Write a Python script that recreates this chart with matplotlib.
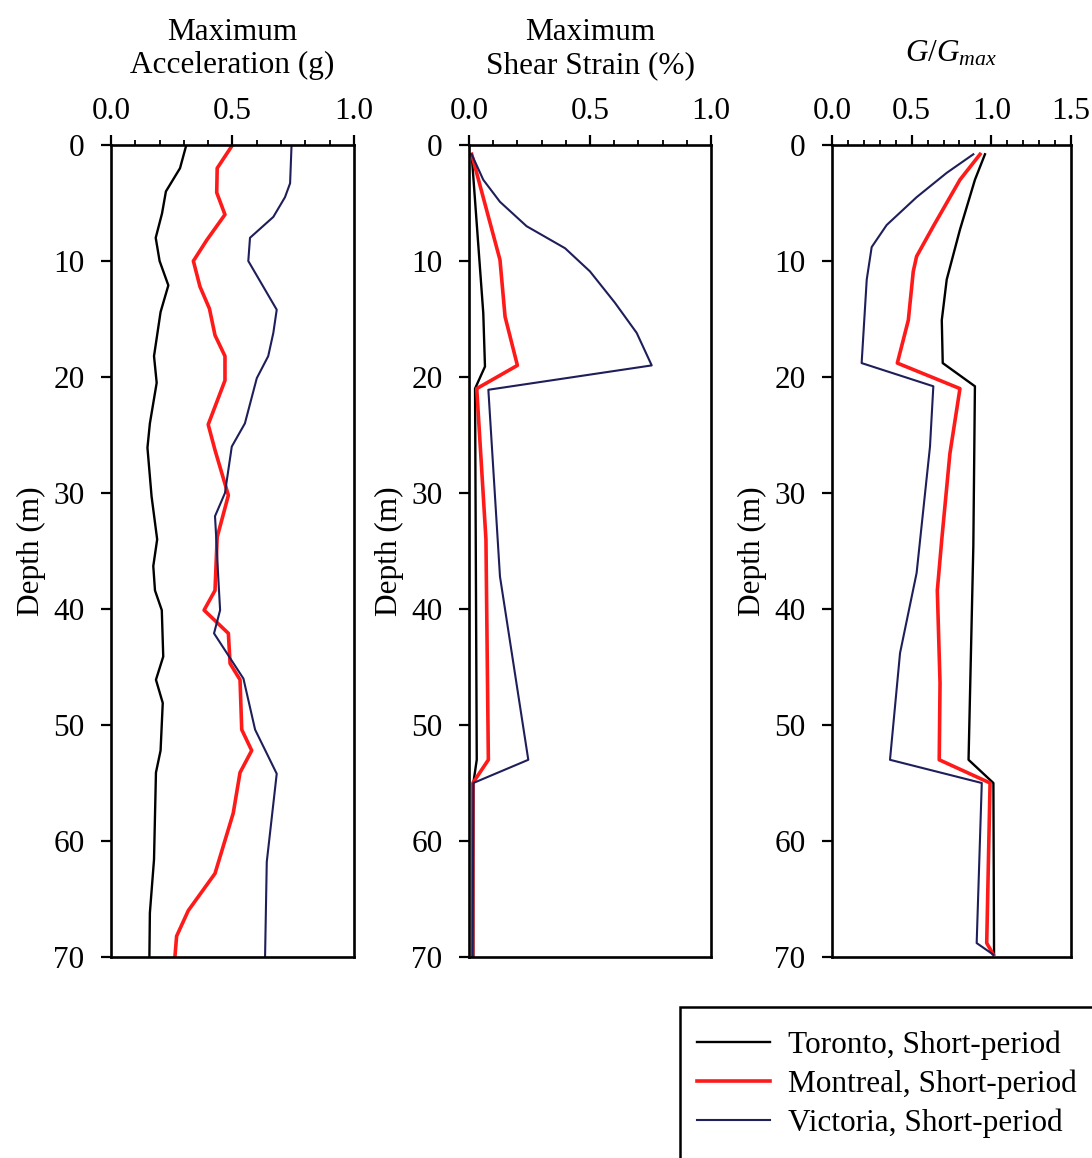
import numpy as np
from matplotlib import pyplot as plt
from matplotlib.patches import Rectangle

# --- valeurs ---
depth_ticks = [0, 10, 20, 30, 40, 50, 60, 70]

# Maximum acceleration (g)
acc_tor_d = [0, 2, 4, 5.9, 8, 10, 12.1, 14.4, 18.2, 20.5, 24, 26.1, 30.3, 34, 36.3, 38.4, 40.1,
             44.1, 46.1, 48.1, 52.2, 54.1, 61.6, 66.2, 70]
acc_tor = [0.31, 0.284, 0.226, 0.21, 0.184, 0.20, 0.236, 0.204, 0.177, 0.188, 0.16, 0.15, 0.167,
           0.19, 0.174, 0.181, 0.209, 0.215, 0.185, 0.213, 0.204, 0.185, 0.177, 0.16, 0.158]
acc_mtl_d = [0, 2, 4.1, 6, 8.2, 10, 12.2, 14.1, 16.4, 18.2, 20.3, 24.1, 26.3, 30.2, 33.8, 38.4,
             40.1, 42.1, 44.7, 46.1, 50.4, 52.2, 54.1, 57.6, 62.8, 66, 68.2, 70]
acc_mtl = [0.50, 0.437, 0.435, 0.469, 0.394, 0.339, 0.366, 0.405, 0.428, 0.469, 0.469, 0.40, 0.428,
           0.483, 0.437, 0.428, 0.383, 0.483, 0.49, 0.531, 0.538, 0.579, 0.531, 0.503, 0.428,
           0.318, 0.27, 0.263]
acc_vic_d = [0, 3.3, 4.5, 6.2, 8, 10, 14.2, 16.2, 18.2, 20.1, 24, 26, 30, 32, 34.6, 37.5, 40.1,
             42.1, 46, 50.4, 54.2, 61.8, 70]
acc_vic = [0.743, 0.737, 0.716, 0.668, 0.572, 0.565, 0.682, 0.668, 0.647, 0.60, 0.551, 0.497,
           0.469, 0.428, 0.435, 0.442, 0.449, 0.424, 0.545, 0.593, 0.682, 0.641, 0.634]

# Maximum shear strain (%)
str_tor_d = [0.8, 14.5, 19.1, 21, 53, 55, 70]
str_tor = [0.011, 0.059, 0.066, 0.025, 0.032, 0.018, 0.018]
str_mtl_d = [0.8, 9.9, 14.8, 19, 21, 34, 53, 55, 70]
str_mtl = [0.011, 0.128, 0.149, 0.20, 0.032, 0.07, 0.08, 0.016, 0.015]
str_vic_d = [0.8, 3, 4.9, 7, 8.9, 10.9, 13.6, 16.2, 19, 21.1, 37.2, 53, 55, 70]
str_vic = [0.011, 0.059, 0.128, 0.238, 0.397, 0.50, 0.603, 0.693, 0.755, 0.08, 0.128, 0.245,
           0.018, 0.015]

# G/Gmax
g_tor_d = [0.8, 3, 7.3, 11.6, 15.1, 18.8, 20.8, 34.6, 53, 55, 69.8]
g_tor = [0.96, 0.897, 0.803, 0.72, 0.689, 0.695, 0.897, 0.887, 0.857, 1.013, 1.017]
g_mtl_d = [0.8, 3, 7, 9.6, 10.9, 15.1, 18.8, 21, 26.6, 34, 38.4, 46.4, 53, 55, 68.8, 69.8]
g_mtl = [0.929, 0.803, 0.636, 0.531, 0.51, 0.479, 0.41, 0.803, 0.74, 0.689, 0.661, 0.678, 0.673,
         0.992, 0.971, 1.013]
g_vic_d = [0.8, 2.4, 4.5, 6.9, 8.8, 11.6, 18.8, 20.8, 26, 36.9, 43.8, 53, 55, 68.8, 69.8]
g_vic = [0.887, 0.72, 0.531, 0.343, 0.249, 0.218, 0.186, 0.636, 0.615, 0.531, 0.427, 0.364,
         0.94, 0.908, 1.013]

labels = ['Toronto, Short-period', 'Montreal, Short-period', 'Victoria, Short-period']
colors = ['black', '#ff1a1a', '#1e1e5a']
widths = [1.7, 2.6, 1.5]

plt.rcParams['font.family'] = 'Liberation Serif'
plt.rcParams['mathtext.fontset'] = 'custom'
plt.rcParams['mathtext.rm'] = 'Liberation Serif'
plt.rcParams['mathtext.it'] = 'Liberation Serif:italic'
FS = 22.5

fig = plt.figure(figsize=(10.92, 11.58), dpi=100)

panels = [
    dict(left=111, right=354, xmax=1.0, xt=[0.0, 0.5, 1.0],
         data=[(acc_tor, acc_tor_d), (acc_mtl, acc_mtl_d), (acc_vic, acc_vic_d)]),
    dict(left=469, right=711, xmax=1.0, xt=[0.0, 0.5, 1.0],
         data=[(str_tor, str_tor_d), (str_mtl, str_mtl_d), (str_vic, str_vic_d)]),
    dict(left=832, right=1071, xmax=1.5, xt=[0.0, 0.5, 1.0, 1.5],
         data=[(g_tor, g_tor_d), (g_mtl, g_mtl_d), (g_vic, g_vic_d)]),
]

W, H = 1092, 1158
top, bottom = 145, 957
axes = []
for p in panels:
    ax = fig.add_axes([p['left'] / W, 1 - bottom / H, (p['right'] - p['left']) / W, (bottom - top) / H])
    for (x, d), c, lw, lab in zip(p['data'], colors, widths, labels):
        ax.plot(x, d, color=c, lw=lw, label=lab)
    ax.set_xlim(0, p['xmax'])
    ax.set_ylim(70, 0)
    ax.xaxis.tick_top()
    ax.set_xticks(p['xt'])
    ax.set_xticklabels([f'{v:.1f}' for v in p['xt']])
    ax.set_xticks(np.arange(0, p['xmax'] + 0.01, 0.1), minor=True)
    ax.set_yticks(depth_ticks)
    ax.tick_params(axis='x', which='major', direction='out', length=7, width=1.6, pad=7, labelsize=FS)
    ax.tick_params(axis='x', which='minor', direction='out', length=3.5, width=1.3)
    ax.tick_params(axis='y', which='major', direction='out', length=7, width=1.6, pad=12, labelsize=FS)
    for s in ax.spines.values():
        s.set_linewidth(1.9)
    ax.set_ylabel('Depth (m)', fontsize=FS, labelpad=5)
    axes.append(ax)

# titres
fig.text((111 + 354) / 2 / W, 1 - 73 / H, 'Maximum\nAcceleration (g)', ha='center', va='baseline',
         fontsize=FS, linespacing=1.2)
fig.text((469 + 711) / 2 / W, 1 - 73 / H, 'Maximum\nShear Strain (%)', ha='center', va='baseline',
         fontsize=FS, linespacing=1.2)
fig.text((832 + 1071) / 2 / W, 1 - 62 / H, r'$G/G_{max}$', ha='center', va='baseline', fontsize=FS)

# légende
fig.patches.append(Rectangle((680 / W, 1 - 1175 / H), 500 / W, 168 / H, transform=fig.transFigure,
                             facecolor='white', edgecolor='black', lw=1.8))
handles, labs = axes[0].get_legend_handles_labels()
fig.legend(handles, labs, loc='upper left', bbox_to_anchor=(697 / W, 1 - 1030 / H), frameon=False,
           fontsize=FS, handlelength=2.34, handletextpad=0.58, labelspacing=0.31, borderpad=0,
           borderaxespad=0)

fig.savefig('out.png', dpi=100)
